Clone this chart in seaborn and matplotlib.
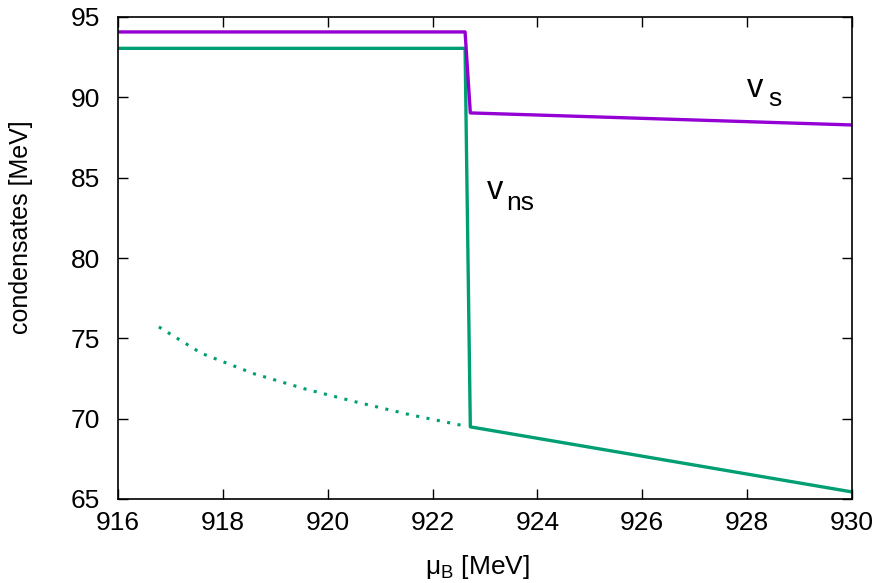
import matplotlib
matplotlib.use("Agg")
import matplotlib.pyplot as plt
import seaborn as sns
import pandas as pd

# data
vs_x = [916.0, 922.62, 922.72, 930.0]
vs_y = [94.07, 94.07, 89.03, 88.28]
vns_x = [916.0, 922.62, 922.72, 930.0]
vns_y = [93.05, 93.05, 69.49, 65.44]
meta_x = [916.78, 917.59, 918.59, 919.59, 920.59, 921.59, 922.58]
meta_y = [75.71, 74.07, 72.80, 71.83, 71.00, 70.23, 69.57]
xticks = [916, 918, 920, 922, 924, 926, 928, 930]
yticks = [65, 70, 75, 80, 85, 90, 95]

sns.set_style("ticks")
plt.rcParams['font.family'] = ['Liberation Sans', 'DejaVu Sans']
plt.rcParams['text.color'] = 'black'
plt.rcParams['axes.labelcolor'] = 'black'
plt.rcParams['xtick.color'] = 'black'
plt.rcParams['ytick.color'] = 'black'

purple = "#9400d3"
green = "#009e73"

fig = plt.figure(figsize=(8.81, 5.83), dpi=100)
ax = fig.add_axes([118/881, 1-499/583, (852-118)/881, (499-17)/583])

df_vs = pd.DataFrame({"x": vs_x, "y": vs_y})
df_vns = pd.DataFrame({"x": vns_x, "y": vns_y})
df_meta = pd.DataFrame({"x": meta_x, "y": meta_y})

sns.lineplot(data=df_meta, x="x", y="y", ax=ax, color=green, lw=2.2,
             linestyle=(0, (1, 2.45)), sort=False, estimator=None)
sns.lineplot(data=df_vns, x="x", y="y", ax=ax, color=green, lw=2.4,
             sort=False, estimator=None)
sns.lineplot(data=df_vs, x="x", y="y", ax=ax, color=purple, lw=2.4,
             sort=False, estimator=None)

ax.set_xlim(916, 930)
ax.set_ylim(65, 95)
ax.set_xticks(xticks)
ax.set_yticks(yticks)
ax.tick_params(direction="in", length=7, width=1, labelsize=19,
               top=True, right=True, color="black")
ax.tick_params(axis="x", pad=9)
ax.tick_params(axis="y", pad=13)
for s in ax.spines.values():
    s.set_linewidth(1.2)
    s.set_color("black")

ax.set_xlabel(r"$\mathregular{\mu_B}$ [MeV]", fontsize=19)
ax.set_ylabel("condensates [MeV]", fontsize=18)
ax.xaxis.set_label_coords(0.489, -0.113)
ax.yaxis.set_label_coords(-0.1158, 0.564)

ax.text(928.00, 90.02, "v", fontsize=23.5, va="baseline")
ax.text(928.40, 89.46, "s", fontsize=19, va="baseline")
ax.text(923.04, 83.67, "v", fontsize=23.5, va="baseline")
ax.text(923.40, 82.99, "ns", fontsize=19, va="baseline")

fig.savefig("out.png", dpi=100)
